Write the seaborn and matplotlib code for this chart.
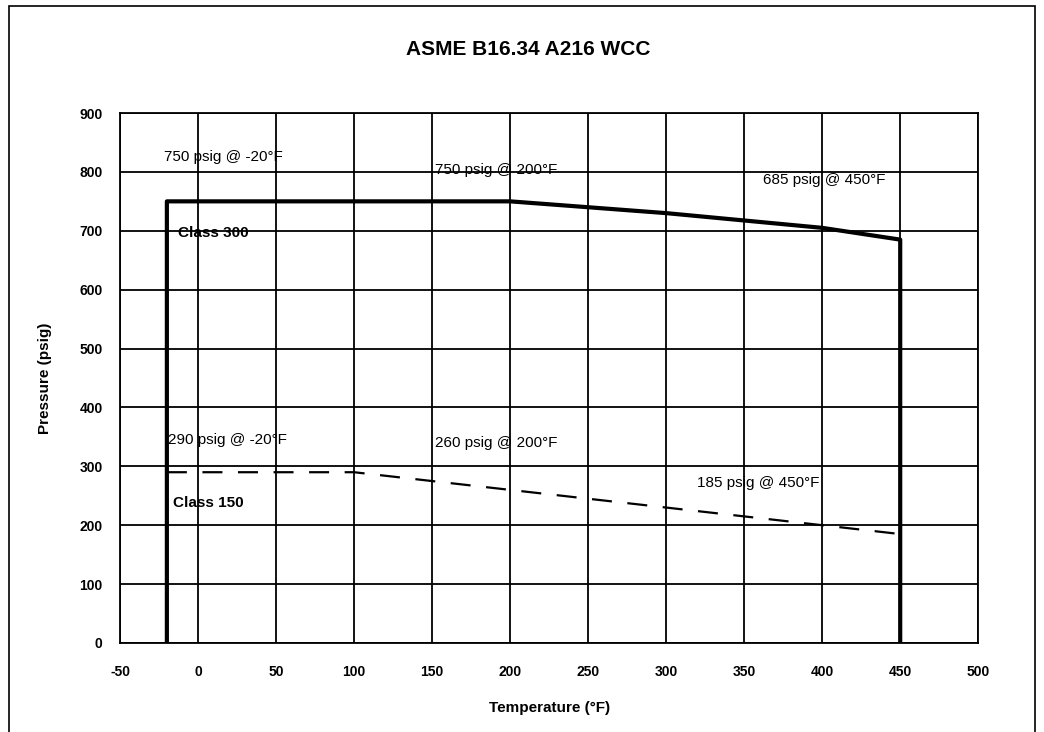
import matplotlib
matplotlib.use("Agg")
import matplotlib.pyplot as plt
import seaborn as sns
from matplotlib.patches import Rectangle

# rating data (ASME B16.34, A216 WCC)
temps = [-20, 100, 200, 300, 400, 450]
class300 = [750, 750, 750, 730, 705, 685]
class150 = [290, 290, 260, 230, 200, 185]

# class 300 curve is closed down to zero at both ends
c300_x = [temps[0]] + temps + [temps[-1]]
c300_y = [0] + class300 + [0]

annotations = [
    ("750 psig @ -20°F", -22, 825, "normal"),
    ("750 psig @ 200°F", 152, 803, "normal"),
    ("685 psig @ 450°F", 362, 786, "normal"),
    ("Class 300", -13, 697, "bold"),
    ("290 psig @ -20°F", -19, 345, "normal"),
    ("260 psig @ 200°F", 152, 340, "normal"),
    ("185 psig @ 450°F", 320, 272, "normal"),
    ("Class 150", -16, 238, "bold"),
]

sns.set_style("white")
plt.rcParams['font.family'] = ['Liberation Sans', 'DejaVu Sans']
plt.rcParams['axes.unicode_minus'] = False
plt.rcParams['text.color'] = 'black'
plt.rcParams['axes.labelcolor'] = 'black'
plt.rcParams['xtick.color'] = 'black'
plt.rcParams['ytick.color'] = 'black'

fig = plt.figure(figsize=(10.44, 7.32), dpi=100)
ax = fig.add_axes([0.115, 0.1216, 0.822, 0.724])

sns.lineplot(x=c300_x, y=c300_y, sort=False, estimator=None, color="black",
             linewidth=3, ax=ax)
sns.lineplot(x=temps, y=class150, sort=False, estimator=None, color="black",
             linewidth=1.6, linestyle=(0, (9, 7)), ax=ax)

for txt, x, y, w in annotations:
    ax.text(x, y, txt, fontsize=11, fontweight=w, va="center", ha="left", color="black")

ax.set_xlim(-50, 500)
ax.set_ylim(0, 900)
ax.set_xticks(range(-50, 501, 50))
ax.set_yticks(range(0, 901, 100))
ax.grid(True, color="black", linewidth=1.3)
ax.tick_params(direction="inout", length=7, width=1.3, labelsize=10, colors="black")
ax.tick_params(axis="x", pad=12)
ax.tick_params(axis="y", pad=9)
for lab in ax.get_xticklabels() + ax.get_yticklabels():
    lab.set_fontweight("bold")
for s in ax.spines.values():
    s.set_color("black")
    s.set_linewidth(1.3)

ax.set_xlabel("Temperature (°F)", fontsize=11, fontweight="bold", labelpad=16)
ax.set_ylabel("Pressure (psig)", fontsize=11, fontweight="bold", labelpad=20)
fig.text(0.506, 0.932, "ASME B16.34 A216 WCC", ha="center", va="center",
         fontsize=15, fontweight="bold", color="black")

fig.patches.append(Rectangle((0.009, -0.01), 0.982, 1.002, transform=fig.transFigure,
                             fill=False, edgecolor="black", linewidth=1.2))

fig.savefig("out.png", dpi=100)
